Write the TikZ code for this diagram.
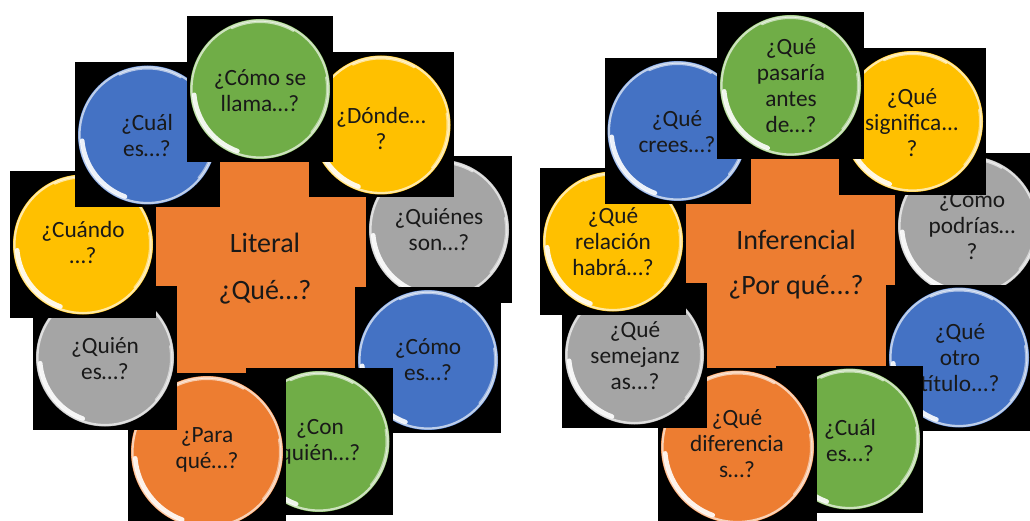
\documentclass[tikz,border=0pt]{standalone}
\usepackage{fontspec}
\setmainfont{Carlito}
\definecolor{cgreen}{HTML}{70AD47}
\definecolor{cblue}{HTML}{4472C4}
\definecolor{cyellow}{HTML}{FFC000}
\definecolor{cgray}{HTML}{A5A5A5}
\definecolor{corange}{HTML}{ED7D31}
\tikzset{
  bubtext/.style={align=center, text=black!90, inner sep=0pt,
    font=\fontsize{23.3}{26}\selectfont},
  centertext/.style={text=black!90, inner sep=0pt,
    font=\fontsize{28}{34}\selectfont},
  centerbox/.style={fill=corange, draw=none}
}
% #1 name, #2 sx, #3 sy, #4 side, #5 colour, #6 text, #7 tx, #8 ty  (y measured from top)
\newcommand\bubble[8]{%
  \fill[black] ({#2-#4/2},{520-#3-#4/2}) rectangle ({#2+#4/2},{520-#3+#4/2});
  \fill[#5] (#2,{520-#3}) circle ({#4/2-3});
  \draw[#5!35!white, line width=2.2] (#2,{520-#3}) circle ({#4/2-4.5});
  \draw[white, line width=4.5, line cap=round, opacity=.9]
    (#2,{520-#3}) ++(185:{#4/2-7}) arc[start angle=185, end angle=250, radius={#4/2-7}];
  \draw[white, line width=2, line cap=round, opacity=.6]
    (#2,{520-#3}) ++(60:{#4/2-6}) arc[start angle=60, end angle=115, radius={#4/2-6}];
  \draw[white, line width=2, line cap=round, opacity=.5]
    (#2,{520-#3}) ++(-40:{#4/2-6}) arc[start angle=-40, end angle=10, radius={#4/2-6}];
  \node[bubtext] (#1) at (#7,{520-#8}) {#6};
}
\begin{document}
\begin{tikzpicture}[x=1pt,y=1pt]
\useasboundingbox (0,0) rectangle (1030,520);
\clip (0,0) rectangle (1030,520);
% ---------- left cluster ----------
\fill[centerbox] (150,{520-380}) rectangle (370,{520-150});
\node[centertext] (lit) at (265,{520-243}) {Literal};
\node[centertext] (litq) at (265,{520-292}) {¿Qué…?};
\bubble{l1}{439}{229.5}{146}{cgray}{¿Quiénes\\son…?}{439}{230}
\bubble{l2}{381}{125}{145}{cyellow}{¿Dónde…\\?}{381}{128}
\bubble{l3}{428}{360}{146}{cblue}{¿Cómo\\es…?}{428}{360}
\bubble{l4}{319}{441.5}{147}{cgreen}{¿Con\\quién…?}{320}{442}
\bubble{l5}{207}{452}{158}{corange}{¿Para\\qué…?}{207}{450}
\bubble{l6}{105}{357.5}{144}{cgray}{¿Quién\\es…?}{105}{359}
\bubble{l7}{83}{244.5}{146}{cyellow}{¿Cuándo\\…?}{83}{243}
\bubble{l8}{147.5}{135}{145}{cblue}{¿Cuál\\es…?}{147}{136}
\bubble{l9}{260}{89}{146}{cgreen}{¿Cómo se\\llama…?}{260}{91}
% ---------- right cluster ----------
\fill[centerbox] (680,{520-380}) rectangle (900,{520-150});
\node[centertext] (inf) at (796,{520-240}) {Inferencial};
\node[centertext] (infq) at (796,{520-287}) {¿Por qué...?};
\bubble{r1}{968}{226}{146}{cgray}{¿Cómo\\podrías…\\?}{972}{226}
\bubble{r2}{912.5}{121.5}{147}{cyellow}{¿Qué\\significa...\\?}{912}{123}
\bubble{r3}{959}{357.5}{146}{cblue}{¿Qué\\otro\\título...?}{960}{358}
\bubble{r4}{849.5}{439}{147}{cgreen}{¿Cuál\\es…?}{850}{440}
\bubble{r5}{737.5}{447}{159}{corange}{¿Qué\\diferencia\\s…?}{737}{444}
\bubble{r6}{634.5}{355}{145}{cgray}{¿Qué\\semejanz\\as...?}{635}{356}
\bubble{r7}{613}{241.5}{146}{cyellow}{¿Qué\\relación\\habrá…?}{613}{242}
\bubble{r8}{677.5}{131}{146}{cblue}{¿Qué\\crees…?}{677}{132}
\bubble{r9}{790.5}{85.5}{147}{cgreen}{¿Qué\\pasaría\\antes\\de…?}{791}{86}
\end{tikzpicture}
\end{document}
